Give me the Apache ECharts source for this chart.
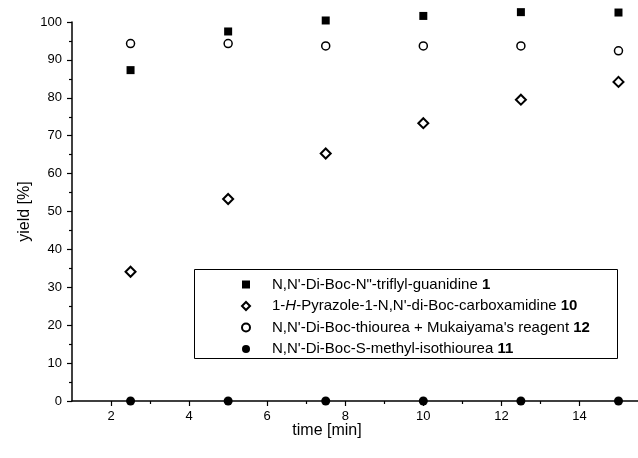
<!DOCTYPE html>
<html><head><meta charset="utf-8">
<script src="https://cdn.jsdelivr.net/npm/echarts@6/dist/echarts.min.js"></script>
<style>html,body{margin:0;padding:0;background:#fff}#c{width:638px;height:458px}</style>
</head><body><div id="c"></div>
<script>
const times = [2.5, 5, 7.5, 10, 12.5, 15];
const seriesNames = [
  "N,N'-Di-Boc-N\"-triflyl-guanidine 1",
  "1-H-Pyrazole-1-N,N'-di-Boc-carboxamidine 10",
  "N,N'-Di-Boc-thiourea + Mukaiyama's reagent 12",
  "N,N'-Di-Boc-S-methyl-isothiourea 11"
];
const triflylGuanidine = [87.3, 97.5, 100.4, 101.6, 102.6, 102.5];
const pyrazoleCarboxamidine = [34.1, 53.3, 65.3, 73.3, 79.5, 84.2];
const thioureaMukaiyama = [94.3, 94.3, 93.7, 93.7, 93.7, 92.4];
const methylIsothiourea = [0, 0, 0, 0, 0, 0];
const xMajorTicks = [2, 4, 6, 8, 10, 12, 14];
const xMinorTicks = [3, 5, 7, 9, 11, 13, 15];

const pts = arr => times.map((t, i) => [t, arr[i]]);
const font = 'Arial, "Liberation Sans", sans-serif';

function legendLabel(name) {
  const idx = name.lastIndexOf(' ');
  let head = name.slice(0, idx), num = name.slice(idx + 1);
  if (head.startsWith('1-H-')) head = '1-{i|H}-' + head.slice(4);
  return head + ' {b|' + num + '}';
}

const chart = echarts.init(document.getElementById('c'), null, {renderer: 'canvas'});
chart.setOption({
  backgroundColor: '#fff',
  animation: false,
  grid: {left: 72, right: 0, top: 22, bottom: 57, containLabel: false},
  xAxis: [{
    type: 'value', min: 1, max: 15.5,
    name: 'time [min]', nameLocation: 'middle', nameGap: 22, nameMoveOverlap: false,
    nameTextStyle: {fontFamily: font, fontSize: 16, color: '#000', padding: [0, 56, 0, 0]},
    axisLine: {show: true, lineStyle: {color: '#000', width: 1.5}},
    axisTick: {show: true, inside: false, length: 5, customValues: xMajorTicks, lineStyle: {color: '#000', width: 1.2}},
    axisLabel: {show: true, customValues: xMajorTicks, margin: 9, fontFamily: font, fontSize: 13, color: '#000'},
    splitLine: {show: false}
  }, {
    type: 'value', min: 1, max: 15.5, position: 'bottom',
    axisLine: {show: false},
    axisTick: {show: true, inside: false, length: 3, customValues: xMinorTicks, lineStyle: {color: '#000', width: 1.2}},
    axisLabel: {show: false},
    splitLine: {show: false}
  }],
  yAxis: {
    type: 'value', min: 0, max: 100, interval: 10,
    name: 'yield [%]', nameLocation: 'middle', nameGap: 39, nameRotate: 90, nameMoveOverlap: false,
    nameTextStyle: {fontFamily: font, fontSize: 16, color: '#000'},
    axisLine: {show: true, lineStyle: {color: '#000', width: 1.5}},
    axisTick: {show: true, inside: false, length: 5, lineStyle: {color: '#000', width: 1.2}},
    minorTick: {show: true, splitNumber: 2, length: 3, lineStyle: {color: '#000', width: 1.2}},
    axisLabel: {margin: 10, fontFamily: font, fontSize: 13, color: '#000'},
    splitLine: {show: false}
  },
  graphic: [{
    type: 'rect', z: 5,
    shape: {x: 194.5, y: 269.5, width: 423, height: 89},
    style: {fill: '#fff', stroke: '#000', lineWidth: 1}
  }],
  legend: {
    orient: 'vertical', left: 194, top: 269, z: 10,
    padding: [8, 10, 3, 47], itemGap: 6.5,
    itemWidth: 8, itemHeight: 8,
    data: [
      {name: seriesNames[0], icon: 'rect'},
      {name: seriesNames[1], icon: 'diamond'},
      {name: seriesNames[2], icon: 'circle'},
      {name: seriesNames[3], icon: 'circle'}
    ],
    formatter: legendLabel,
    textStyle: {fontFamily: font, fontSize: 15, color: '#000', padding: [0, 0, 0, 17],
      rich: {b: {fontFamily: font, fontSize: 15, fontWeight: 'bold', color: '#000'},
             i: {fontFamily: font, fontSize: 15, fontStyle: 'italic', color: '#000'}}}
  },
  series: [{
    name: seriesNames[0], type: 'scatter', symbol: 'rect', symbolSize: 8, clip: false,
    itemStyle: {color: '#000', opacity: 1}, data: pts(triflylGuanidine)
  }, {
    name: seriesNames[1], type: 'scatter', symbol: 'diamond', symbolSize: 10, clip: false,
    itemStyle: {color: '#fff', borderColor: '#000', borderWidth: 2, opacity: 1}, data: pts(pyrazoleCarboxamidine)
  }, {
    name: seriesNames[2], type: 'scatter', symbol: 'circle', symbolSize: 8, clip: false,
    itemStyle: {color: '#fff', borderColor: '#000', borderWidth: 1.5, opacity: 1}, data: pts(thioureaMukaiyama)
  }, {
    name: seriesNames[3], type: 'scatter', symbol: 'circle', symbolSize: 9, clip: false,
    itemStyle: {color: '#000', opacity: 1}, data: pts(methylIsothiourea)
  }]
});
</script></body></html>
